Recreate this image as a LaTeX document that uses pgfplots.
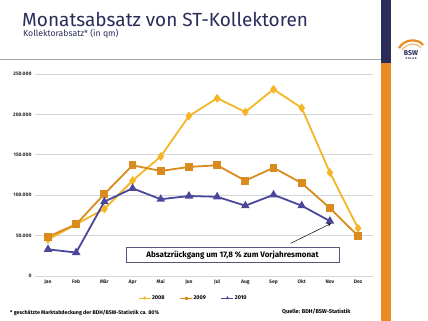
\documentclass[border=0pt]{standalone}
\usepackage{fontspec}
\setmainfont{Fira Sans}
\usepackage{pgfplots}
\pgfplotsset{compat=1.18}
\definecolor{cyellow}{HTML}{F4B626}
\definecolor{corange}{HTML}{D98B1E}
\definecolor{cblue}{HTML}{4B479A}
\definecolor{navy}{HTML}{2A2C5A}
\definecolor{barorange}{HTML}{EA8B25}
\definecolor{gridc}{HTML}{D6D6DE}
\begin{document}
\begin{tikzpicture}[x=1pt,y=1pt]
\useasboundingbox (0,0) rectangle (428,321);
\fill[white] (0,0) rectangle (428,321);
\fill[navy] (381,321) rectangle (391,258);
\fill[barorange] (381,258) rectangle (391,0);
\draw[gray!70, line width=0.6pt] (0,262) -- (381,262);
\node[anchor=base west, navy, inner sep=0pt, text depth=0pt, font=\fontsize{19}{19}\selectfont] at (22,294.5) {Monatsabsatz von ST-Kollektoren};
\node[anchor=base west, navy, inner sep=0pt, text height=6pt, font=\fontsize{8.7}{10}\selectfont] at (23,284.5) {Kollektorabsatz* (in qm)};
% logo
\draw[barorange, line width=2.2pt] (399,273) .. controls (404,282) and (418,283) .. (423,276);
\draw[barorange!60, line width=1.2pt] (402,271) .. controls (407,278) and (416,279) .. (421,273);
\node[navy, inner sep=0pt, font=\bfseries\fontsize{7}{7}\selectfont] at (411,268) {BSW};
\node[navy, inner sep=0pt, font=\bfseries\fontsize{2.8}{3}\selectfont] at (411,262) {S O L A R};
\begin{axis}[
  at={(48pt,45pt)}, anchor=origin,
  scale only axis, width=338pt, height=202pt,
  xmin=-0.46, xmax=11.53, ymin=0, ymax=250000,
  axis line style={draw=none},
  major tick length=0pt,
  ymajorgrids, grid style={gridc, line width=0.8pt},
  xtick={0,...,11},
  xticklabels={Jan,Feb,Mär,Apr,Mai,Jun,Jul,Aug,Sep,Okt,Nov,Dez},
  ytick={0,50000,100000,150000,200000,250000},
  scaled y ticks=false,
  /pgf/number format/assume math mode=true,
  yticklabel style={/pgf/number format/.cd, 1000 sep={.}, fixed},
  xticklabel style={text height=4pt, text depth=1pt},
  tick label style={font=\bfseries\fontsize{5}{6}\selectfont, black!85},
  clip=false,
  legend style={at={(0.467,-0.109)}, anchor=center, draw=none, fill=none,
    legend columns=3, font=\bfseries\fontsize{5.5}{6}\selectfont,
    nodes={inner xsep=1pt},
    /tikz/every even column/.append style={column sep=14pt}},
  legend image code/.code={\draw[mark repeat=2,mark phase=2,#1, line width=1pt, mark size=1pt] plot coordinates {(0pt,0pt) (6pt,0pt) (12pt,0pt)};},
]
\addplot[cyellow, line width=1.8pt, mark=diamond*, mark size=3pt] coordinates {
(0,45000) (1,64000) (2,83000) (3,118000) (4,148000) (5,198000) (6,220000) (7,203000) (8,231000) (9,208000) (10,128000) (11,59000)};
\addplot[corange, line width=1.8pt, mark=square*, mark size=3pt] coordinates {
(0,48500) (1,64000) (2,101500) (3,137000) (4,130000) (5,135000) (6,137000) (7,118000) (8,134000) (9,115000) (10,84000) (11,49500)};
\addplot[cblue, line width=1.8pt, mark=triangle*, mark size=3.2pt] coordinates {
(0,33000) (1,29000) (2,92000) (3,108500) (4,95000) (5,99000) (6,98000) (7,87000) (8,100500) (9,87000) (10,68000)};
\legend{2008,2009,2010}
\end{axis}
\node[draw=navy!80, line width=0.6pt, fill=white, minimum width=213pt, minimum height=15pt, inner sep=0pt, font=\bfseries\fontsize{8}{9}\selectfont] at (232.5,66) {Absatzrückgang um 17,8 \% zum Vorjahresmonat};
\draw[-stealth, line width=0.5pt] (290.7,77.7) -- (331,97.5);
\node[anchor=west, inner sep=0pt, font=\bfseries\fontsize{5.3}{6}\selectfont] at (10,8) {* geschätzte Marktabdeckung der BDH/BSW-Statistik ca. 80\%};
\node[anchor=west, inner sep=0pt, font=\bfseries\fontsize{5.6}{6}\selectfont] at (282,9) {Quelle: BDH/BSW-Statistik};
\end{tikzpicture}
\end{document}
